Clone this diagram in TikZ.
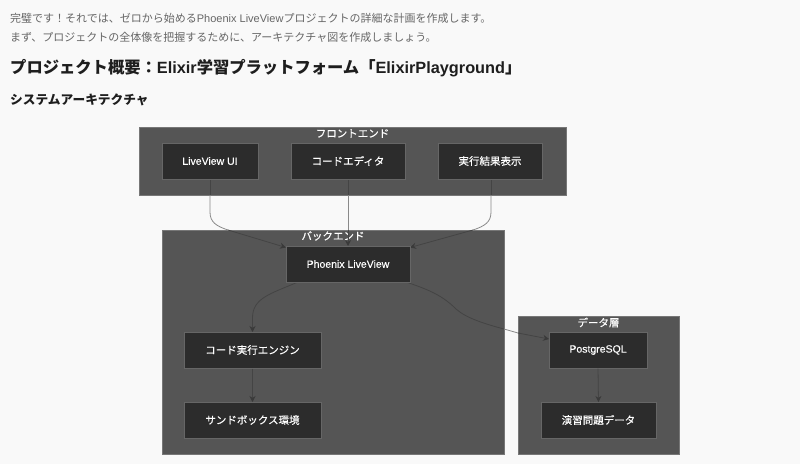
\documentclass[tikz,border=0pt]{standalone}
\usepackage{fontspec}
\setmainfont[FakeBold=0.25]{Noto Sans CJK JP}
\newfontfamily\plainjp{Noto Sans CJK JP}
\newfontfamily\plainlat{Liberation Sans}
\newfontfamily\latinfont[FakeBold=0.25]{Liberation Sans}
\usetikzlibrary{arrows.meta}
\definecolor{pagebg}{HTML}{F9F9F9}
\definecolor{groupfill}{HTML}{555555}
\definecolor{groupline}{HTML}{777777}
\definecolor{boxfill}{HTML}{2C2C2C}
\definecolor{boxline}{HTML}{666666}
\definecolor{wire}{HTML}{8A8A8A}
\definecolor{wiredark}{HTML}{444444}
\definecolor{tipdark}{HTML}{3A3A3A}
\definecolor{bodytext}{HTML}{666666}
\definecolor{headtext}{HTML}{1E1E1E}
\newcommand{\lowered}[1]{\raisebox{-0.8pt}{#1}}
\tikzset{
  groupbox/.style={draw=groupline,fill=groupfill,line width=0.8pt},
  proc/.style={draw=boxline,fill=boxfill,line width=1pt,text=white,font=\fontsize{10.5}{13}\selectfont,inner sep=0pt,minimum height=36pt},
  grouptitle/.style={text=white,font=\fontsize{10.5}{13}\selectfont,inner sep=0pt},
  bodyline/.style={anchor=west,inner sep=0pt,text=bodytext,font=\fontsize{11}{14}\plainjp},
  wirelight/.style={draw=wire,line width=0.8pt},
  wireplain/.style={draw=wiredark,line width=0.8pt},
  wireinner/.style={draw=wiredark,line width=0.8pt,-{Stealth[length=6pt,width=6pt,color=tipdark]}}
}
\begin{document}
\begin{tikzpicture}[x=1pt,y=-1pt]
\useasboundingbox[fill=pagebg] (0,0) rectangle (800,464);
\node[bodyline] (l1) at (10,18) {完璧です！それでは、ゼロから始める{\plainlat Phoenix LiveView}プロジェクトの詳細な計画を作成します。};
\node[bodyline] (l2) at (10,37.5) {まず、プロジェクトの全体像を把握するために、アーキテクチャ図を作成しましょう。};
\node[anchor=west,inner sep=0pt,text=headtext,font=\fontsize{16.3}{20}\plainjp\bfseries] (h1) at (10,68.5) {プロジェクト概要：{\plainlat\bfseries Elixir}学習プラットフォーム「{\plainlat\bfseries ElixirPlayground}」};
\node[anchor=west,inner sep=0pt,text=headtext,font=\fontsize{12.7}{15}\plainjp\bfseries] (h2) at (10,99.5) {システムアーキテクチャ};

\draw[groupbox] (139,127) rectangle (566,195);
\draw[groupbox] (162,230) rectangle (504,454);
\draw[groupbox] (518,316) rectangle (679,454);
\node[grouptitle] (tf) at (352.5,133.5) {フロントエンド};
\node[grouptitle] (tb) at (333,236) {バックエンド};
\node[grouptitle] (td) at (598.5,322.5) {データ層};

\coordinate (ua) at (210,179);
\coordinate (ub) at (210,195);
\coordinate (uc) at (228,230);
\coordinate (ea) at (348,179);
\coordinate (eb) at (348,195);
\coordinate (ec) at (348,230);
\coordinate (ra) at (491,179);
\coordinate (rb) at (491,195);
\coordinate (rc) at (473,230);
\coordinate (pl) at (286,247.5);
\coordinate (pm) at (348,246);
\coordinate (pr) at (410,247.5);
\coordinate (pb1) at (298,282);
\coordinate (pb2) at (406,282);
\coordinate (xa) at (504,329);
\coordinate (xb) at (518,333);
\coordinate (gl) at (549,339);
\coordinate (ct) at (252.5,332);
\coordinate (st) at (252.5,402);
\coordinate (dt) at (598.5,402);

\draw[wireplain] (ua) -- (ub);
\draw[wirelight] (ub) -- (210,212) .. controls (210,222) and (216,226) .. (uc);
\draw[wireinner] (uc) -- (pl);
\draw[wireplain] (ea) -- (eb);
\draw[wirelight] (eb) -- (ec);
\draw[wireinner] (ec) -- (pm);
\draw[wireplain] (ra) -- (rb);
\draw[wirelight] (rb) -- (491,212) .. controls (491,222) and (485,226) .. (rc);
\draw[wireinner] (rc) -- (pr);
\draw[wireplain] (pb2) .. controls (430,290) and (443,296) .. (456,309) .. controls (466,318) and (485,324) .. (xa);
\draw[wirelight] (xa) -- (xb);
\draw[wireinner] (xb) -- (gl);
\draw[wireinner] (pb1) .. controls (270,294) and (252.5,298) .. (252.5,318) -- (ct);

\node[proc,minimum width=96pt] (ui) at (210,161) {\lowered{\latinfont LiveView UI}};
\node[proc,minimum width=114pt] (ed) at (348,161) {\lowered{コードエディタ}};
\node[proc,minimum width=104pt] (re) at (490,161) {\lowered{実行結果表示}};
\node[proc,minimum width=124pt] (ph) at (348,264) {\lowered{\latinfont Phoenix LiveView}};
\node[proc,minimum width=137pt] (en) at (252.5,350) {\lowered{コード実行エンジン}};
\node[proc,minimum width=137pt] (sb) at (252.5,420) {\lowered{サンドボックス環境}};
\node[proc,minimum width=98pt] (pg) at (598,350) {\lowered{\latinfont PostgreSQL}};
\node[proc,minimum width=115pt] (da) at (598.5,420) {\lowered{演習問題データ}};

\draw[wireinner] (en.south) -- (st);
\draw[wireinner] (pg.south) -- (dt);
\end{tikzpicture}
\end{document}
